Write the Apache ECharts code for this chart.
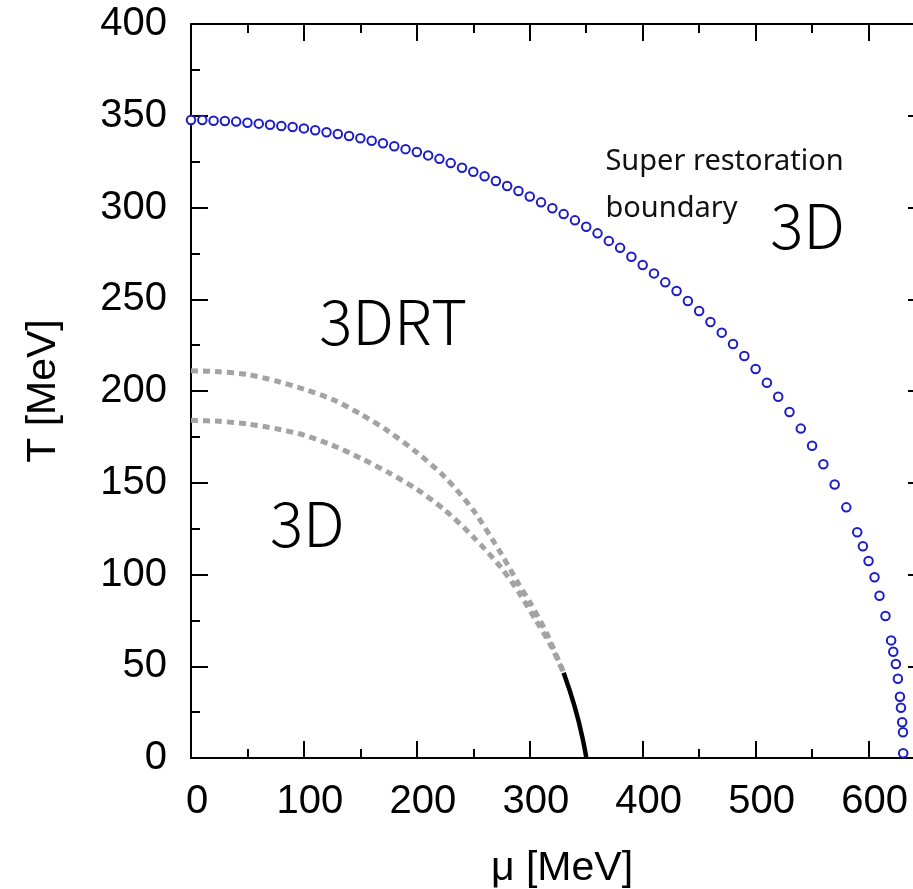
<!DOCTYPE html>
<html>
<head>
<meta charset="utf-8">
<title>μ–T phase diagram</title>
<script src="https://cdn.jsdelivr.net/npm/echarts@6/dist/echarts.min.js"></script>
<style>
  html, body { margin: 0; padding: 0; background: #ffffff; }
  #chart { width: 913px; height: 889px; }
</style>
</head>
<body>
<div id="chart"></div>
<script>
// Axis ranges and tick positions (MeV)
const muRange = [0, 650];
const tRange = [0, 400];
const muMajorTicks = [0, 100, 200, 300, 400, 500, 600];
const muMinorTicks = [50, 150, 250, 350, 450, 550, 650];
const tMajorTicks = [0, 50, 100, 150, 200, 250, 300, 350, 400];
const tMinorTicks = [25, 75, 125, 175, 225, 275, 325, 375];

// Super restoration boundary: [mu, T]
const superRestorationBoundary = [
  [0, 347.7], [10, 347.7], [20, 347.3], [30, 347.1], [40, 346.8], [50, 346.2],
  [60, 345.7], [70, 345.1], [80, 344.4], [90, 343.9], [100, 343.1], [110, 342.1],
  [120, 341.0], [130, 340.1], [140, 339.0], [150, 337.7], [160, 336.4], [170, 335.0],
  [180, 333.4], [190, 331.8], [200, 330.2], [210, 328.4], [220, 326.5], [230, 324.2],
  [240, 321.7], [250, 319.5], [260, 317.0], [270, 314.4], [280, 311.7], [290, 309.0],
  [300, 306.0], [310, 302.8], [320, 299.6], [330, 296.4], [340, 293.0], [350, 289.5],
  [360, 285.9], [370, 281.8], [380, 278.0], [390, 273.2], [400, 268.7], [410, 264.1],
  [420, 259.2], [430, 254.5], [440, 249.0], [450, 243.6], [460, 237.6], [470, 231.8],
  [480, 225.6], [490, 219.1], [500, 212.0], [510, 204.5], [520, 196.9], [530, 188.6],
  [540, 179.5], [550, 170.2], [560, 160.1], [570, 149.0], [580.3, 136.6], [590, 123.0],
  [595, 115.4], [600, 107.4], [605.3, 98.5], [609.7, 88.4], [615, 77.4], [620, 64.1],
  [621.9, 57.9], [624.2, 51.2], [626, 43.2], [627.8, 33.4], [628.7, 27.4], [629.8, 19.5],
  [630.5, 14.0], [630.7, 2.6]
];

// Crossover lines (dashed, gray)
const upperCrossover = [
  [0, 211], [25, 210.5], [50, 209], [75, 205.5], [100, 201], [125, 195.5],
  [150, 187.5], [175, 178], [200, 166.5], [225, 153], [250, 135], [275, 111],
  [290, 95], [300, 85], [315, 68], [330, 46.5]
];
const lowerCrossover = [
  [0, 184], [25, 183.5], [50, 182], [75, 179.5], [100, 176], [125, 170.5],
  [150, 163.5], [175, 155.5], [200, 146.5], [225, 135], [250, 120.5], [275, 103.5],
  [290, 90.5], [305, 75.5], [318, 62], [330, 46.5]
];

// First-order transition line (solid, black)
const firstOrderLine = [
  [330, 46.5], [335, 37.5], [339.5, 28.5], [343.5, 19.5], [346.5, 11.5],
  [348.5, 5.5], [349.7, 1.5], [350, 0]
];

// Region labels: [mu, T, text]
const regionLabels = [
  [179, 238, '3DRT'],
  [103, 128, '3D'],
  [546, 290, '3D']
];
const boundaryNote = [367, 312, 'Super restoration\nboundary'];

const tickFont = 'Liberation Sans, Arial, sans-serif';
const regionFont = '"Noto Sans CJK JP", "Noto Sans", sans-serif';
const noteFont = '"Noto Sans", "Open Sans", sans-serif';

function frameAxis(extra) {
  return Object.assign({
    type: 'value',
    gridIndex: 0,
    splitLine: { show: false },
    axisLine: { show: true, onZero: false, lineStyle: { color: '#000', width: 2 } },
    axisLabel: { show: false },
    axisTick: { show: false },
    axisPointer: { show: false }
  }, extra);
}
const hiddenLine = { show: false, onZero: false };

function majorTick(values) {
  return { show: true, inside: true, length: 17, customValues: values,
           lineStyle: { color: '#000', width: 2 } };
}
function minorTick(values) {
  return { show: true, inside: true, length: 9, customValues: values,
           lineStyle: { color: '#000', width: 2 } };
}

const chart = echarts.init(document.getElementById('chart'), null, { renderer: 'canvas' });

const option = {
  backgroundColor: '#ffffff',
  animation: false,
  grid: { left: 191, top: 24, width: 734, height: 734, containLabel: false, outerBoundsMode: 'none' },
  xAxis: [
    frameAxis({
      position: 'bottom', min: muRange[0], max: muRange[1],
      axisTick: majorTick(muMajorTicks),
      axisLabel: {
        show: true, customValues: muMajorTicks, margin: 24,
        fontFamily: tickFont, fontSize: 40, color: '#000',
        padding: [0, 0, 0, 12]
      },
      name: 'μ [MeV]', nameLocation: 'middle', nameGap: 90,
      nameTextStyle: { fontFamily: tickFont, fontSize: 41, color: '#000', padding: [0, 0, 0, 8] }
    }),
    frameAxis({ position: 'bottom', min: muRange[0], max: muRange[1],
      axisLine: hiddenLine, axisTick: minorTick(muMinorTicks) }),
    frameAxis({ position: 'top', min: muRange[0], max: muRange[1],
      axisTick: majorTick(muMajorTicks) }),
    frameAxis({ position: 'top', min: muRange[0], max: muRange[1],
      axisLine: hiddenLine, axisTick: minorTick(muMinorTicks) })
  ],
  yAxis: [
    frameAxis({
      position: 'left', min: tRange[0], max: tRange[1],
      axisTick: majorTick(tMajorTicks),
      axisLabel: {
        show: true, customValues: tMajorTicks, margin: 24,
        fontFamily: tickFont, fontSize: 40, color: '#000',
        padding: [6, 0, 0, 0]
      },
      name: 'T [MeV]', nameLocation: 'middle', nameGap: 127, nameRotate: 90,
      nameTextStyle: { fontFamily: tickFont, fontSize: 41, color: '#000' }
    }),
    frameAxis({ position: 'left', min: tRange[0], max: tRange[1],
      axisLine: hiddenLine, axisTick: minorTick(tMinorTicks) }),
    frameAxis({ position: 'right', min: tRange[0], max: tRange[1],
      axisTick: majorTick(tMajorTicks) }),
    frameAxis({ position: 'right', min: tRange[0], max: tRange[1],
      axisLine: hiddenLine, axisTick: minorTick(tMinorTicks) })
  ],
  series: [
    {
      name: 'upper crossover', type: 'line', xAxisIndex: 0, yAxisIndex: 0,
      data: upperCrossover, showSymbol: false, smooth: 0.25,
      lineStyle: { color: '#a3a3a3', width: 5, type: [7, 5], cap: 'butt' }
    },
    {
      name: 'lower crossover', type: 'line', xAxisIndex: 0, yAxisIndex: 0,
      data: lowerCrossover, showSymbol: false, smooth: 0.25,
      lineStyle: { color: '#a3a3a3', width: 5, type: [7, 5], cap: 'butt' }
    },
    {
      name: 'first order', type: 'line', xAxisIndex: 0, yAxisIndex: 0,
      data: firstOrderLine, showSymbol: false, smooth: false,
      lineStyle: { color: '#000', width: 4.5, type: 'solid', join: 'round' }
    },
    {
      name: 'super restoration boundary', type: 'scatter', xAxisIndex: 0, yAxisIndex: 0,
      data: superRestorationBoundary, symbol: 'emptyCircle', symbolSize: 8.5, clip: false,
      itemStyle: { color: '#1c1cc8', borderColor: '#1c1cc8', borderWidth: 2, opacity: 1 }
    },
    {
      name: 'regions', type: 'scatter', xAxisIndex: 0, yAxisIndex: 0,
      data: regionLabels.map(r => ({ value: [r[0], r[1]], name: r[2] })),
      symbolSize: 0, silent: true, itemStyle: { opacity: 1 },
      label: {
        show: true, position: 'inside', formatter: '{b}', opacity: 1,
        fontFamily: regionFont, fontSize: 62, fontWeight: 300, color: '#000'
      }
    },
    {
      name: 'note', type: 'scatter', xAxisIndex: 0, yAxisIndex: 0,
      data: [{ value: [boundaryNote[0], boundaryNote[1]], name: boundaryNote[2] }],
      symbolSize: 0, silent: true, itemStyle: { opacity: 1 },
      label: {
        show: true, position: 'right', distance: 0, formatter: '{b}', opacity: 1,
        align: 'left', verticalAlign: 'middle',
        fontFamily: noteFont, fontSize: 29, lineHeight: 47, color: '#111'
      }
    }
  ]
};

chart.setOption(option);
</script>
</body>
</html>
